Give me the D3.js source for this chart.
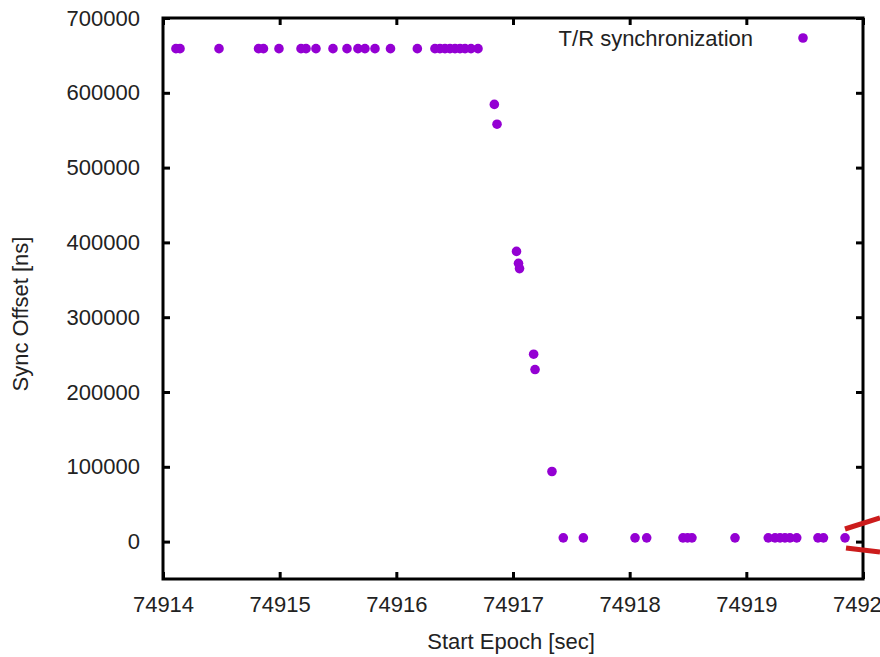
<!DOCTYPE html>
<html>
<head>
<meta charset="utf-8">
<script src="https://cdn.jsdelivr.net/npm/d3@7"></script>
<style>
  html, body { margin: 0; padding: 0; background: #fff; }
  svg { display: block; }
</style>
</head>
<body>
<svg id="chart" width="880" height="657"></svg>
<script>
// Start epoch (s) and measured sync offset (ns) of each T/R synchronization sample
const epochs = [
  74914.111, 74914.146, 74914.480, 74914.819, 74914.861, 74914.994,
  74915.183, 74915.226, 74915.311, 74915.457, 74915.577, 74915.671,
  74915.731, 74915.817, 74915.950, 74916.180, 74916.331, 74916.374,
  74916.417, 74916.460, 74916.503, 74916.546, 74916.589, 74916.640,
  74916.700,
  74916.840, 74916.863,
  74917.030, 74917.047, 74917.056,
  74917.177, 74917.189, 74917.334,
  74917.431, 74917.603, 74918.046, 74918.146, 74918.457, 74918.496,
  74918.534, 74918.903, 74919.188, 74919.246, 74919.289, 74919.331,
  74919.374, 74919.432, 74919.614, 74919.661, 74919.846
];
const offsets = [
  659000, 659000, 659000, 659000, 659000, 659000,
  659000, 659000, 659000, 659000, 659000, 659000,
  659000, 659000, 659000, 659000, 659000, 659000,
  659000, 659000, 659000, 659000, 659000, 659000,
  659000,
  584500, 558000,
  388000, 372000, 365000,
  250500, 230000, 93700,
  5000, 5000, 5000, 5000, 5000, 5000,
  5000, 5000, 5000, 5000, 5000, 5000,
  5000, 5000, 5000, 5000, 5000
];
const xTicks = [74914, 74915, 74916, 74917, 74918, 74919, 74920];
const yTicks = [0, 100000, 200000, 300000, 400000, 500000, 600000, 700000];
const seriesName = "T/R synchronization";
const xTitle = "Start Epoch [sec]";
const yTitle = "Sync Offset [ns]";

(function draw() {
  const svg = d3.select("#chart");
  const pl = 163, pr = 863, pt = 18, pb = 579;
  const font = "'Liberation Sans', Arial, sans-serif";
  const textColor = "#222";
  const pointColor = "#9400d3";

  const x = d3.scaleLinear().domain([74914, 74920]).range([pl, pr]);
  const y = d3.scaleLinear().domain([-50000, 700000]).range([pb, pt]);

  // Axes with inward ticks on all four sides
  const axisStyle = g => {
    g.select(".domain").remove();
    g.selectAll(".tick line").attr("stroke", "#000").attr("stroke-width", 3);
    g.selectAll(".tick text").attr("fill", textColor)
      .style("font-family", font).style("font-size", "22px");
  };

  svg.append("g").attr("transform", `translate(0,${pb})`)
    .call(d3.axisBottom(x).tickValues(xTicks).tickFormat(d3.format("d"))
      .tickSizeInner(-7).tickPadding(17))
    .call(axisStyle);
  svg.append("g").attr("transform", `translate(0,${pt})`)
    .call(d3.axisTop(x).tickValues(xTicks).tickFormat("").tickSizeInner(-7))
    .call(axisStyle);
  svg.append("g").attr("transform", `translate(${pl},0)`)
    .call(d3.axisLeft(y).tickValues(yTicks).tickFormat(d3.format("d"))
      .tickSizeInner(-7).tickPadding(23))
    .call(axisStyle);
  svg.append("g").attr("transform", `translate(${pr},0)`)
    .call(d3.axisRight(y).tickValues(yTicks).tickFormat("").tickSizeInner(-7))
    .call(axisStyle);

  // Plot frame
  svg.append("rect")
    .attr("x", pl).attr("y", pt)
    .attr("width", pr - pl).attr("height", pb - pt)
    .attr("fill", "none").attr("stroke", "#000").attr("stroke-width", 3);

  // Data points
  svg.append("g").selectAll("circle")
    .data(epochs.map((e, i) => ({ e, v: offsets[i] })))
    .join("circle")
    .attr("cx", d => x(d.e))
    .attr("cy", d => y(d.v))
    .attr("r", 4.8)
    .attr("fill", pointColor);

  // Legend
  svg.append("text")
    .attr("x", 753).attr("y", 46)
    .attr("text-anchor", "end")
    .attr("fill", textColor)
    .style("font-family", font).style("font-size", "22px")
    .text(seriesName);
  svg.append("circle")
    .attr("cx", 803).attr("cy", 38).attr("r", 4.8).attr("fill", pointColor);

  // Axis titles
  svg.append("text")
    .attr("x", (pl + pr) / 2 - 2).attr("y", 649)
    .attr("text-anchor", "middle").attr("fill", textColor)
    .style("font-family", font).style("font-size", "22px")
    .text(xTitle);
  svg.append("text")
    .attr("transform", "translate(28,314) rotate(-90)")
    .attr("text-anchor", "middle").attr("fill", textColor)
    .style("font-family", font).style("font-size", "22px")
    .text(yTitle);

  // Red callout strokes leaving the frame at the lower right
  const callout = [
    [[845, 529], [880, 518]],
    [[846, 548], [880, 552]]
  ];
  svg.append("g").selectAll("line")
    .data(callout)
    .join("line")
    .attr("x1", d => d[0][0]).attr("y1", d => d[0][1])
    .attr("x2", d => d[1][0]).attr("y2", d => d[1][1])
    .attr("stroke", "#cc1c1c").attr("stroke-width", 5);
})();
</script>
</body>
</html>
